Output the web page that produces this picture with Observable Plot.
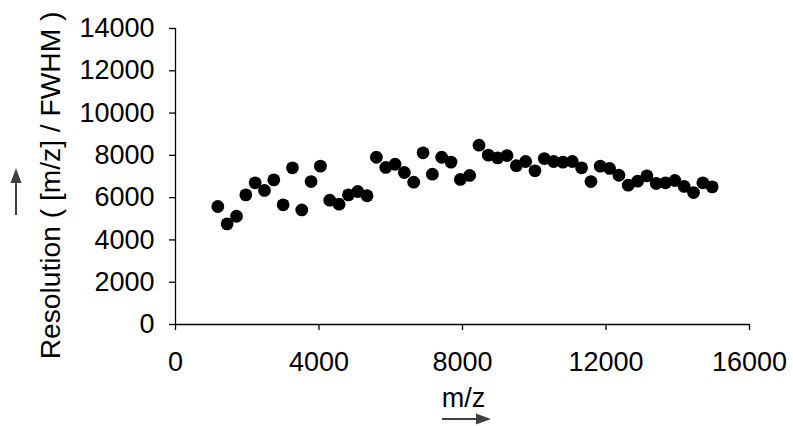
<!DOCTYPE html>
<html>
<head>
<meta charset="utf-8">
<script src="https://cdn.jsdelivr.net/npm/d3@7"></script>
<script src="https://cdn.jsdelivr.net/npm/@observablehq/plot@0.6"></script>
<style>
  html, body { margin: 0; padding: 0; background: #fff; }
</style>
</head>
<body>
<div id="chart"></div>
<script>
// Mass-to-charge of each measured peak
const mz = [
  1180, 1440, 1700, 1960, 2220, 2480, 2740, 3000, 3260, 3520,
  3780, 4040, 4300, 4560, 4820, 5080, 5340, 5600, 5860, 6120,
  6380, 6640, 6900, 7160, 7420, 7680, 7940, 8200, 8460, 8720,
  8980, 9240, 9500, 9760, 10020, 10280, 10540, 10800, 11060, 11320,
  11580, 11840, 12100, 12360, 12620, 12880, 13140, 13400, 13660, 13920,
  14180, 14440, 14700, 14960
];
// Resolution (m/z over FWHM) at each peak
const resolution = [
  5580, 4760, 5120, 6130, 6700, 6340, 6840, 5660, 7410, 5420,
  6760, 7490, 5880, 5690, 6130, 6290, 6090, 7910, 7430, 7580,
  7190, 6730, 8120, 7110, 7910, 7680, 6860, 7050, 8480, 8010,
  7880, 7990, 7510, 7710, 7270, 7850, 7710, 7680, 7710, 7410,
  6760, 7490, 7380, 7060, 6590, 6780, 7030, 6670, 6700, 6810,
  6530, 6240, 6700, 6510
];
const xTicks = [0, 4000, 8000, 12000, 16000];
const yTicks = [0, 2000, 4000, 6000, 8000, 10000, 12000, 14000];
const xLabel = "m/z";
const yLabel = "Resolution ( [m/z] / FWHM )";

const points = mz.map((m, i) => ({mz: m, res: resolution[i]}));
const font = '"Liberation Sans", Arial, sans-serif';

const W = 793, H = 426;
const margin = {left: 175, right: 44, top: 28, bottom: 102};

const plot = Plot.plot({
  width: W,
  height: H,
  marginLeft: margin.left,
  marginRight: margin.right,
  marginTop: margin.top,
  marginBottom: margin.bottom,
  style: {fontFamily: font, fontSize: "27px", color: "#000", background: "#fff", overflow: "visible"},
  x: {domain: [0, 16000]},
  y: {domain: [0, 14000]},
  marks: [
    Plot.axisX({ticks: xTicks, tickSize: 6, tickPadding: 21, tickFormat: d3.format("d"), label: null, strokeWidth: 1.3}),
    Plot.axisY({ticks: yTicks, tickSize: 6, tickPadding: 15, tickFormat: d3.format("d"), label: null, strokeWidth: 1.3}),
    Plot.ruleY([0], {stroke: "#000", strokeWidth: 1.3}),
    Plot.ruleX([0], {stroke: "#000", strokeWidth: 1.3}),
    Plot.dot(points, {x: "mz", y: "res", r: 6.4, fill: "#000", stroke: "none"}),
    Plot.text([yLabel], {text: d => d, frameAnchor: "left", textAnchor: "middle", rotate: -90, lineAnchor: "middle", dx: -125, dy: 9, fontSize: 28.2}),
    Plot.text([xLabel], {text: d => d, frameAnchor: "bottom", textAnchor: "middle", lineAnchor: "middle", dx: 1, dy: 74, fontSize: 27})
  ]
});

document.getElementById("chart").appendChild(plot);

// Direction arrows beside the axis titles
const svg = d3.select(plot);
const arrowColor = "#404040";
function arrow(x1, y1, x2, y2) {
  const len = Math.hypot(x2 - x1, y2 - y1);
  const ux = (x2 - x1) / len, uy = (y2 - y1) / len;
  const head = 15, half = 5.5;
  const bx = x2 - ux * head, by = y2 - uy * head;
  svg.append("line")
    .attr("x1", x1).attr("y1", y1).attr("x2", bx).attr("y2", by)
    .attr("stroke", arrowColor).attr("stroke-width", 2);
  svg.append("path")
    .attr("d", `M${x2},${y2}L${bx - uy * half},${by + ux * half}L${bx + uy * half},${by - ux * half}Z`)
    .attr("fill", arrowColor);
}
const frameBottom = H - margin.bottom;
const frameMidX = (margin.left + W - margin.right) / 2;
const frameMidY = (margin.top + frameBottom) / 2;
arrow(frameMidX - 20, frameBottom + 95, frameMidX + 29, frameBottom + 95);
arrow(16, frameMidY + 39, 16, frameMidY - 8);
</script>
</body>
</html>
